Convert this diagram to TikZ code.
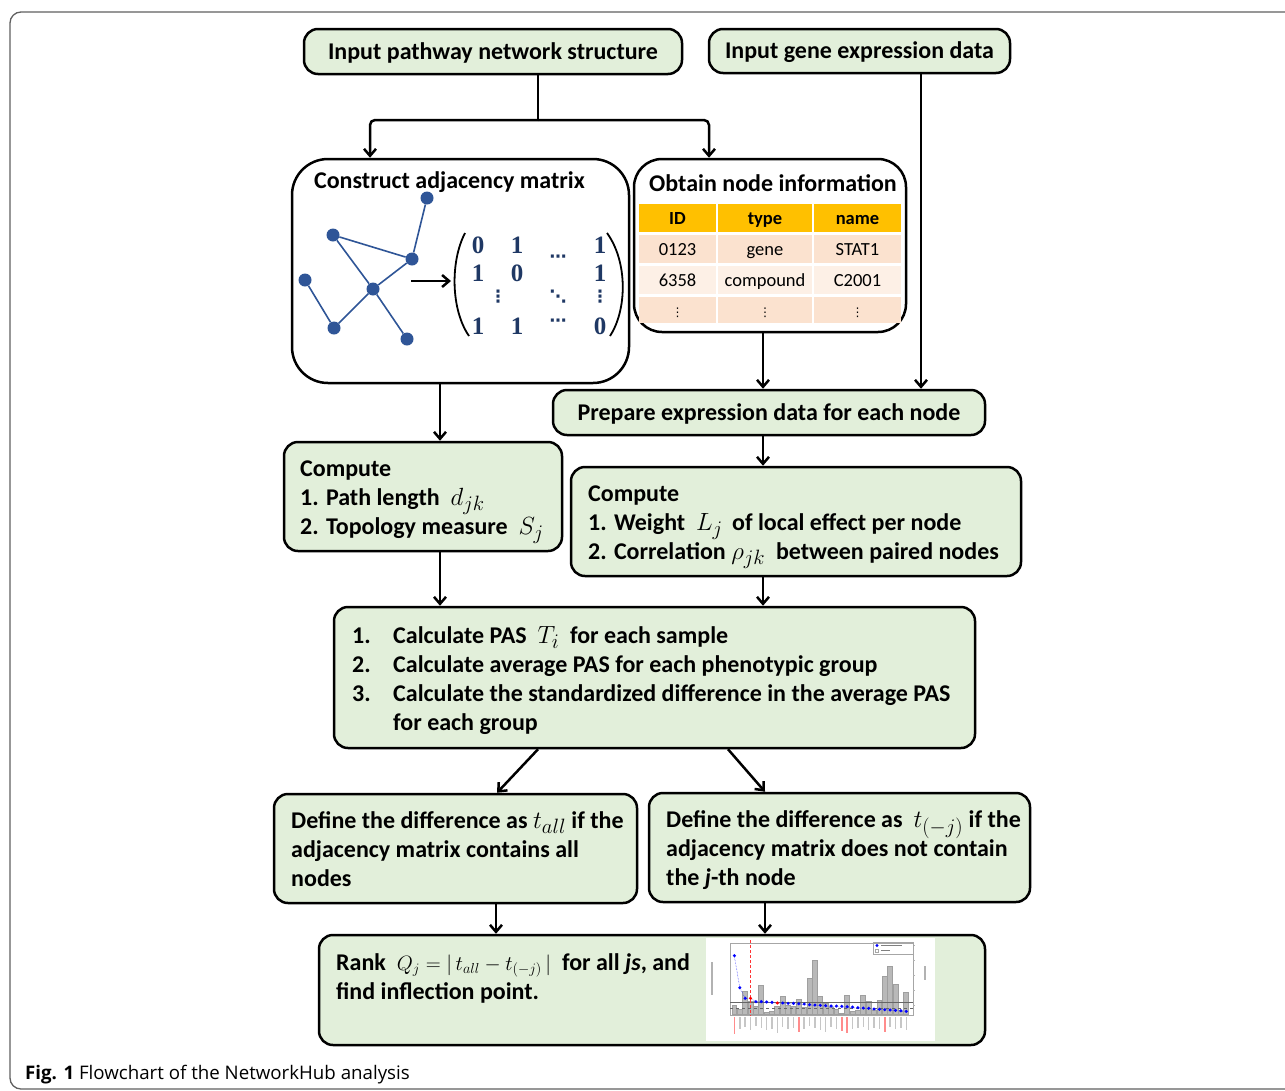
\documentclass[tikz,border=0pt]{standalone}
\usepackage{fontspec}
\setmainfont{Carlito}
\newfontfamily\capfont{Open Sans}
\newfontfamily\matfont{Liberation Serif}
\newfontfamily\dotfont{DejaVu Sans}
\usetikzlibrary{arrows.meta}
\definecolor{boxg}{HTML}{E2EFDA}
\definecolor{netblue}{HTML}{2F5597}
\definecolor{matblue}{HTML}{1F3864}
\definecolor{thead}{HTML}{FFC000}
\definecolor{trowa}{HTML}{FBE2CF}
\definecolor{trowb}{HTML}{FDF0E6}
\definecolor{framegray}{HTML}{606060}
\newcommand\mth[1]{{\fontsize{20.74}{24}\selectfont$#1$}}
\newcommand\mthb[1]{{\fontsize{24.88}{29}\selectfont$#1$}}
\tikzset{
  box/.style={draw, line width=2.5pt, rounded corners=14pt, fill=boxg, inner sep=0pt,
    font=\fontsize{24}{29}\selectfont\bfseries, text height=15.5pt, text depth=0pt},
  wbox/.style={draw, line width=2.5pt, fill=white, inner sep=0pt},
  tline/.style={anchor=base west, inner sep=0pt, font=\fontsize{24}{29}\selectfont\bfseries},
  ttitle/.style={anchor=base, inner sep=0pt, font=\fontsize{24}{29}\selectfont\bfseries},
  conn/.style={line width=2.5pt},
  arr/.style={line width=2.5pt, -{Straight Barb[length=7pt,width=12pt,line width=2.5pt]}},
  netnode/.style={circle, fill=netblue, inner sep=0pt, minimum size=13pt},
  netedge/.style={netblue, line width=1.6pt},
  mat/.style={text=matblue, font=\matfont\bfseries\fontsize{25}{25}\selectfont, inner sep=0pt},
  matdots/.style={text=matblue, inner sep=0pt, font=\dotfont\bfseries\fontsize{17}{17}\selectfont},
  tcell/.style={inner sep=0pt, font=\fontsize{18.5}{18}\selectfont, text height=12pt, text depth=0pt},
  bar/.style={fill=gray!55, draw=gray!75, line width=0.4pt},
  bdot/.style={circle, fill=blue, inner sep=0pt, minimum size=3.4pt},
  rdot/.style={circle, fill=red, inner sep=0pt, minimum size=3.4pt},
}
\begin{document}
\begin{tikzpicture}[x=1pt,y=-1pt]
\useasboundingbox (0,0) rectangle (1285,1090);
\begin{scope}
\clip (0,0) rectangle (1285,1090);
\draw[framegray, line width=1.3pt, rounded corners=11pt] (10,12) rectangle (1310,1089);
\end{scope}

% top input boxes
\node[box, minimum width=378pt, minimum height=45pt] (inA) at (493,51.5) {Input pathway network structure};
\node[box, minimum width=301pt, minimum height=44pt] (inB) at (859.5,51) {Input gene expression data};

% construct adjacency matrix box
\node[wbox, rounded corners=36pt, minimum width=337pt, minimum height=224pt] (conC) at (460.5,271) {};
\node[ttitle] (conT) at (449.5,188) {Construct adjacency matrix};
% network graph
\node[netnode] (n1) at (427,198) {};
\node[netnode] (n2) at (333,235) {};
\node[netnode] (n3) at (412,259) {};
\node[netnode] (n4) at (305,280) {};
\node[netnode] (n5) at (373,289) {};
\node[netnode] (n6) at (334,328) {};
\node[netnode] (n7) at (407,339) {};
\draw[netedge] (n1) -- (n3);
\draw[netedge] (n2) -- (n3);
\draw[netedge] (n2) -- (n5);
\draw[netedge] (n3) -- (n5);
\draw[netedge] (n4) -- (n6);
\draw[netedge] (n6) -- (n5);
\draw[netedge] (n5) -- (n7);
\coordinate (ma0) at (411,281);
\coordinate (ma1) at (451,281);
\draw[line width=2.5pt, -{Straight Barb[length=7pt,width=12pt,line width=2.5pt]}] (ma0) -- (ma1);
% matrix
\coordinate (lp0) at (465,233);
\coordinate (lp1) at (469,336);
\coordinate (rp0) at (607,233);
\coordinate (rp1) at (610,336);
\draw[line width=1.8pt] (lp0) .. controls (450,262) and (451,310) .. (lp1);
\draw[line width=1.8pt] (rp0) .. controls (628,262) and (627,310) .. (rp1);
\node[mat] (m11) at (478,245) {0};
\node[mat] (m12) at (517,245) {1};
\node[mat] (m14) at (600,245) {1};
\node[matdots] (m13) at (558,259) {⋯};
\node[mat] (m21) at (478,273) {1};
\node[mat] (m22) at (517,273) {0};
\node[mat] (m24) at (600,273) {1};
\node[matdots] (m31) at (498,297) {⋮};
\node[matdots] (m33) at (558,297) {⋱};
\node[matdots] (m34) at (600,297) {⋮};
\node[mat] (m41) at (478,326) {1};
\node[mat] (m42) at (517,326) {1};
\node[matdots] (m43) at (558,323) {⋯};
\node[mat] (m44) at (600,326) {0};

% obtain node information box
\node[wbox, rounded corners=28pt, minimum width=272pt, minimum height=173pt] (obD) at (770,245.5) {};
\node[ttitle] (obT) at (773,191) {Obtain node information};
% table
\node[tcell, fill=thead, minimum width=77pt, minimum height=28pt, font=\fontsize{18.5}{18}\selectfont\bfseries] (h1) at (677.5,218) {ID};
\node[tcell, fill=thead, minimum width=94pt, minimum height=28pt, font=\fontsize{18.5}{18}\selectfont\bfseries] (h2) at (765,218) {type};
\node[tcell, fill=thead, minimum width=87pt, minimum height=28pt, font=\fontsize{18.5}{18}\selectfont\bfseries] (h3) at (857.5,218) {name};
\node[tcell, fill=trowa, minimum width=77pt, minimum height=28pt] (r11) at (677.5,249) {0123};
\node[tcell, fill=trowa, minimum width=94pt, minimum height=28pt] (r12) at (765,249) {gene};
\node[tcell, fill=trowa, minimum width=87pt, minimum height=28pt] (r13) at (857.5,249) {STAT1};
\node[tcell, fill=trowb, minimum width=77pt, minimum height=28pt] (r21) at (677.5,280) {6358};
\node[tcell, fill=trowb, minimum width=94pt, minimum height=28pt] (r22) at (765,280) {compound};
\node[tcell, fill=trowb, minimum width=87pt, minimum height=28pt] (r23) at (857.5,280) {C2001};
\node[tcell, fill=trowa, minimum width=77pt, minimum height=26pt, font=\dotfont\fontsize{12}{12}\selectfont] (r31) at (677.5,310) {⋮};
\node[tcell, fill=trowa, minimum width=94pt, minimum height=26pt, font=\dotfont\fontsize{12}{12}\selectfont] (r32) at (765,310) {⋮};
\node[tcell, fill=trowa, minimum width=87pt, minimum height=26pt, font=\dotfont\fontsize{12}{12}\selectfont] (r33) at (857.5,310) {⋮};

% prepare expression data
\node[box, minimum width=432pt, minimum height=45pt] (prepE) at (769,412.5) {Prepare expression data for each node};

% compute box F
\node[box, minimum width=278pt, minimum height=109pt] (compF) at (423,496.5) {};
\node[tline] (f1) at (300,476) {Compute};
\node[tline] (f2) at (300,505) {1. Path length \ \mthb{d_{jk}}};
\node[tline] (f3) at (300,534) {2. Topology measure \ \mthb{S_j}};
% compute box G
\node[box, minimum width=450pt, minimum height=109pt] (compG) at (796,521.5) {};
\node[tline] (g1) at (588,501) {Compute};
\node[tline] (g2) at (588,530) {1. Weight \ \mthb{L_j} \,of local effect per node};
\node[tline] (g3) at (588,559) {2. Correlation \mthb{\rho_{jk}} \ between paired nodes};

% calculate box H
\node[box, minimum width=641pt, minimum height=141pt] (calcH) at (654.5,677.5) {};
\node[tline] (h1n) at (352,643) {1.};
\node[tline] (h1t) at (393,643) {Calculate PAS \ \mthb{T_i} \ for each sample};
\node[tline] (h2n) at (352,672) {2.};
\node[tline] (h2t) at (393,672) {Calculate average PAS for each phenotypic group};
\node[tline] (h3n) at (352,701) {3.};
\node[tline] (h3t) at (393,701) {Calculate the standardized difference in the average PAS};
\node[tline] (h4t) at (393,730) {for each group};

% define boxes
\node[box, minimum width=363pt, minimum height=109pt] (defI) at (455.5,848.5) {};
\node[tline] (i1) at (291,828) {Define the difference as \mthb{t_{all}} if the};
\node[tline] (i2) at (291,857) {adjacency matrix contains all};
\node[tline] (i3) at (291,886) {nodes};
\node[box, minimum width=381pt, minimum height=109pt] (defJ) at (839.5,847.5) {};
\node[tline] (j1t) at (666,827) {Define the difference as \ \mthb{t_{(-j)}} if the};
\node[tline] (j2t) at (666,856) {adjacency matrix does not contain};
\node[tline] (j3t) at (666,885) {the \textit{j}-th node};

% rank box
\node[box, minimum width=666pt, minimum height=110pt] (rankK) at (652,990) {};
\node[tline] (k1) at (336,970) {Rank \ \mth{Q_j =|\,t_{all} - t_{(-j)}\,|} \ for all \textit{js}, and};
\node[tline] (k2) at (336,999) {find inflection point.};

% plot inside rank box
\node[fill=white, minimum width=229pt, minimum height=103pt, inner sep=0pt] (plotbg) at (820.5,989.5) {};
\begin{scope}
\draw[gray!70, line width=0.4pt] (730,943) rectangle (913,1015);
\foreach \i/\z in {0/210,1/222,2/168,3/200,4/213,5/150,6/232,7/230,8/213,9/183,10/210,11/213,12/193,13/218,14/130,15/75,16/185,17/205,18/218,19/222,20/236,21/180,22/230,23/225,24/180,25/200,26/225,27/195,28/125,29/93,30/148,31/230,32/172}{
  \draw[bar] ({731.7+5.37*\i},1014.3) rectangle ({731.7+5.37*\i+4.9},{935+\z/3});
}
\draw[gray!80!black, line width=0.7pt] (730,1002) -- (913,1002);
\draw[gray!80!black, line width=0.5pt, dashed] (730,1008) -- (913,1008);
\draw[red!80, line width=0.5pt, densely dashed] (750,940) -- (750,1016);
\draw[blue!80, line width=0.5pt, densely dotted] (734.4,956) -- (739.8,987.7) -- (745.2,998.3) -- (750.5,998.3) -- (755.9,1001.7) -- (907,1011.3);
\foreach \i/\z in {0/62,1/158,2/190,4/200,5/200,6/201,7/202,9/204,10/205,11/205,12/206,13/207,14/209,15/210,16/211,17/212,18/213,19/213,20/214,21/215,22/216,23/218,24/219,25/220,26/222,27/223,28/224,29/225,30/226,31/227,32/229}{
  \node[bdot] at ({734.4+5.37*\i},{935+\z/3}) {};
}
\node[rdot] at ({734.4+5.37*3},998.3) {};
\node[rdot] at ({734.4+5.37*8},1003) {};
\foreach \i/\l/\c in {0/17/red,1/12/gray,2/10/gray,3/13/gray,4/9/gray,5/11/gray,6/13/gray,7/12/gray,8/16/gray,9/10/gray,10/12/gray,11/11/gray,12/15/red,13/12/gray,14/9/gray,15/11/gray,16/13/gray,17/15/gray,18/10/gray,19/12/gray,20/14/red,21/16/red,22/12/gray,23/11/gray,24/10/gray,25/13/gray,26/11/gray,27/12/gray,28/15/red,29/10/gray,30/12/gray,31/11/gray,32/13/gray}{
  \draw[\c!45, line width=1.5pt] ({734.4+5.37*\i},1017) -- ({734.4+5.37*\i},{1017+\l});
}
\draw[gray!60, line width=1.3pt] (712,962) -- (712,995);
\draw[gray!60, line width=1.3pt] (925,966) -- (925,980);
\foreach \yy in {945,960,975,990,1005}{\draw[gray!60, line width=0.5pt] (913,\yy) -- (915,\yy);}
\draw[gray!70, line width=0.4pt] (873,942) rectangle (913,954);
\node[bdot] at (877,945.5) {};
\draw[gray!70, line width=0.5pt] (875.5,949.5) rectangle (878.5,952);
\draw[gray, line width=0.6pt] (881,945.5) -- (902,945.5);
\draw[gray, line width=0.6pt] (881,950.5) -- (890,950.5);
\end{scope}

% connectors
\coordinate (j1) at (538,120);
\coordinate (bl) at (370,120);
\coordinate (br) at (709,120);
\draw[conn] (inA.south -| j1) -- (j1);
\draw[arr, rounded corners=5pt] (j1) -- (bl) -- (bl |- conC.north);
\draw[arr, rounded corners=5pt] (j1) -- (br) -- (br |- obD.north);
\coordinate (xb) at (921,0);
\draw[arr] (xb |- inB.south) -- (xb |- prepE.north);
\coordinate (xd) at (763,0);
\draw[arr] (xd |- obD.south) -- (xd |- prepE.north);
\coordinate (xc) at (440,0);
\draw[arr] (xc |- conC.south) -- (xc |- compF.north);
\draw[arr] (xd |- prepE.south) -- (xd |- compG.north);
\draw[arr] (xc |- compF.south) -- (xc |- calcH.north);
\draw[arr] (xd |- compG.south) -- (xd |- calcH.north);
\coordinate (hl) at (538,0);
\coordinate (il) at (497,0);
\coordinate (hr) at (728,0);
\coordinate (jr) at (765,0);
\draw[arr] (hl |- calcH.south) -- (il |- defI.north);
\draw[arr] (hr |- calcH.south) -- (jr |- defJ.north);
\coordinate (ik) at (496,0);
\draw[arr] (ik |- defI.south) -- (ik |- rankK.north);
\draw[arr] (jr |- defJ.south) -- (jr |- rankK.north);

% caption
\node[anchor=base west, inner sep=0pt, font=\capfont\fontsize{18.7}{23}\selectfont] (cap) at (25,1079)
  {\textbf{Fig. 1} Flowchart of the NetworkHub analysis};
\end{tikzpicture}
\end{document}
